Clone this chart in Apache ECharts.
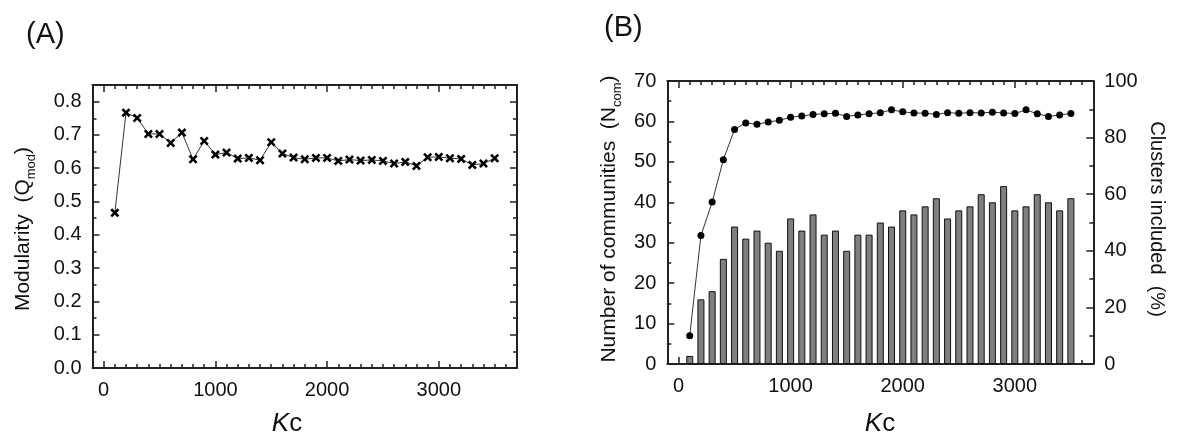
<!DOCTYPE html>
<html>
<head>
<meta charset="utf-8">
<script src="https://cdn.jsdelivr.net/npm/echarts@6/dist/echarts.min.js"></script>
<style>
html,body{margin:0;padding:0;background:#fff;}
#chart{width:1177px;height:448px;}
</style>
</head>
<body>
<div id="chart"></div>
<script>
// ---- data ----
const kc = [100,200,300,400,500,600,700,800,900,1000,1100,1200,1300,1400,1500,1600,1700,1800,1900,2000,2100,2200,2300,2400,2500,2600,2700,2800,2900,3000,3100,3200,3300,3400,3500];
const modularity = [0.466,0.767,0.751,0.703,0.703,0.676,0.707,0.627,0.682,0.641,0.647,0.629,0.631,0.624,0.678,0.644,0.632,0.627,0.631,0.631,0.622,0.626,0.623,0.625,0.622,0.614,0.619,0.607,0.633,0.634,0.630,0.628,0.610,0.614,0.630];
const communities = [2,16,18,26,34,31,33,30,28,36,33,37,32,33,28,32,32,35,34,38,37,39,41,36,38,39,42,40,44,38,39,42,40,38,41];
const clustersIncluded = [10,45.4,57.2,72.2,82.9,85.2,84.7,85.5,86.1,87.2,87.6,88.2,88.4,88.6,87.5,88.0,88.4,88.8,89.8,89.1,88.7,88.6,88.2,88.8,88.6,88.8,88.7,89.0,88.7,88.5,89.8,88.4,87.5,88.0,88.5];
const xTickLabels = [0,1000,2000,3000];
const yTicksA = [0,0.1,0.2,0.3,0.4,0.5,0.6,0.7,0.8];
const yTicksB = [0,10,20,30,40,50,60,70];
const yTicksB2 = [0,20,40,60,80,100];

// ---- style helpers ----
const FONT = 'Liberation Sans, Arial, sans-serif';
const TXT = '#111';
const LINE = '#222';
const MAJ = 7, MIN = 4;

function pairs(xs, ys){ return xs.map((x,i)=>[x, ys[i]]); }

function xAxisMajor(grid, pos, showLabel){
  return {
    type:'value', gridIndex:grid, position:pos, min:-100, max:3700,
    axisLine:{show:true, onZero:false, lineStyle:{color:LINE, width:2}},
    axisTick:{show:true, inside:true, length:MAJ, customValues:xTickLabels, lineStyle:{color:LINE, width:1.5}},
    axisLabel:{show:showLabel, customValues:xTickLabels, margin:12, fontSize:20, fontFamily:FONT, color:TXT, formatter:v=>String(v)},
    splitLine:{show:false}
  };
}
function xAxisMinor(grid, pos){
  return {
    type:'value', gridIndex:grid, position:pos, min:-100, max:3700, interval:100,
    axisLine:{show:false, onZero:false},
    axisTick:{show:true, inside:true, length:MIN, lineStyle:{color:LINE, width:1.5}},
    axisLabel:{show:false}, splitLine:{show:false}
  };
}
function yAxisMajor(grid, pos, min, max, ticks, showLabel, fmt){
  return {
    type:'value', gridIndex:grid, position:pos, min:min, max:max,
    axisLine:{show:true, onZero:false, lineStyle:{color:LINE, width:2}},
    axisTick:{show:true, inside:true, length:MAJ, customValues:ticks, lineStyle:{color:LINE, width:1.5}},
    axisLabel:{show:showLabel, customValues:ticks, margin:11, fontSize:20, fontFamily:FONT, color:TXT, formatter:fmt || (v=>String(v))},
    splitLine:{show:false}
  };
}
function yAxisMinor(grid, pos, min, max, interval){
  return {
    type:'value', gridIndex:grid, position:pos, min:min, max:max, interval:interval,
    axisLine:{show:false, onZero:false},
    axisTick:{show:true, inside:true, length:MIN, lineStyle:{color:LINE, width:1.5}},
    axisLabel:{show:false}, splitLine:{show:false}
  };
}

const gA = {left:92.5, top:85, width:424.5, height:283};
const gB = {left:667.3, top:81, width:426, height:283};

const xSymbol = 'path://M0,2L2,0L5,3L8,0L10,2L7,5L10,8L8,10L5,7L2,10L0,8L3,5Z';

const richName = {
  a:{fontSize:21, lineHeight:30, fontFamily:FONT, fill:TXT},
  s:{fontSize:13, lineHeight:13, verticalAlign:'bottom', fontFamily:FONT, fill:TXT}
};
const richKc = {
  i:{fontSize:26, fontStyle:'italic', fontFamily:FONT, fill:TXT},
  n:{fontSize:26, fontFamily:FONT, fill:TXT}
};

const option = {
  animation:false,
  backgroundColor:'#fff',
  grid:[
    Object.assign({}, gA), Object.assign({}, gA),
    Object.assign({}, gB), Object.assign({}, gB)
  ],
  xAxis:[
    xAxisMajor(0,'bottom',true), xAxisMajor(0,'top',false),
    xAxisMinor(1,'bottom'), xAxisMinor(1,'top'),
    xAxisMajor(2,'bottom',true), xAxisMajor(2,'top',false),
    xAxisMinor(3,'bottom'), xAxisMinor(3,'top')
  ],
  yAxis:[
    yAxisMajor(0,'left',0,0.85,yTicksA,true,v=>v.toFixed(1)),
    yAxisMajor(0,'right',0,0.85,yTicksA,false),
    yAxisMinor(1,'left',0,0.85,0.05),
    yAxisMinor(1,'right',0,0.85,0.05),
    yAxisMajor(2,'left',0,70,yTicksB,true),
    yAxisMajor(2,'right',0,100,yTicksB2,true),
    yAxisMinor(3,'left',0,70,5),
    yAxisMinor(3,'right',0,100,10)
  ],
  series:[
    {
      type:'line', xAxisIndex:0, yAxisIndex:0,
      data:pairs(kc, modularity),
      symbol:xSymbol, symbolSize:9,
      itemStyle:{color:'#000'},
      lineStyle:{color:'#333', width:1}
    },
    {
      type:'bar', xAxisIndex:4, yAxisIndex:4,
      data:pairs(kc, communities),
      barWidth:7,
      itemStyle:{color:'#7f7f7f', borderColor:'#111', borderWidth:1}
    },
    {
      type:'line', xAxisIndex:4, yAxisIndex:5,
      data:pairs(kc, clustersIncluded),
      symbol:'circle', symbolSize:7,
      itemStyle:{color:'#000'},
      lineStyle:{color:'#333', width:1}
    }
  ],
  graphic:[
    {type:'text', x:26, y:35, style:{text:'(A)', fontSize:29, fontFamily:FONT, fill:TXT, align:'left', verticalAlign:'middle'}},
    {type:'text', x:604, y:28, style:{text:'(B)', fontSize:29, fontFamily:FONT, fill:TXT, align:'left', verticalAlign:'middle'}},
    {type:'text', x:287, y:424, style:{text:'{i|K}{n|c}', align:'center', verticalAlign:'middle', rich:richKc}},
    {type:'text', x:880, y:424, style:{text:'{i|K}{n|c}', align:'center', verticalAlign:'middle', rich:richKc}},
    {type:'text', x:23, y:229, rotation:Math.PI/2, style:{text:'{a|Modularity  (Q}{s|mod}{a|)}', align:'center', verticalAlign:'middle', rich:richName}},
    {type:'text', x:609, y:219, rotation:Math.PI/2, style:{text:'{a|Number of communities  (N}{s|com}{a|)}', align:'center', verticalAlign:'middle', rich:richName}},
    {type:'text', x:1157, y:219, rotation:-Math.PI/2, style:{text:'Clusters included  (%)', fontSize:20, fontFamily:FONT, fill:TXT, align:'center', verticalAlign:'middle'}}
  ]
};

const chart = echarts.init(document.getElementById('chart'), null, {renderer:'canvas'});
chart.setOption(option);
</script>
</body>
</html>
